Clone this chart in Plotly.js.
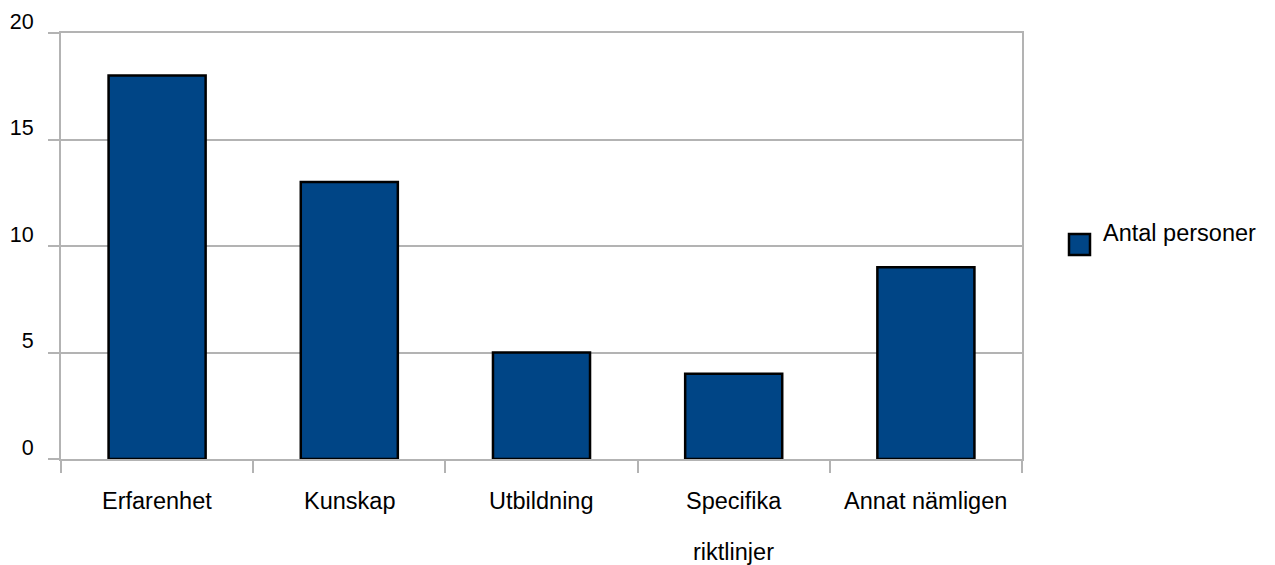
<!DOCTYPE html>
<html>
<head>
<meta charset="utf-8">
<script src="https://cdn.plot.ly/plotly-3.0.1.min.js"></script>
<style>html,body{margin:0;padding:0;background:#fff;}#chart{width:1275px;height:565px;}</style>
</head>
<body>
<div id="chart"></div>
<script>
// Data
var categories = ["Erfarenhet", "Kunskap", "Utbildning", "Specifika riktlinjer", "Annat nämligen"];
var tickLines = [["Erfarenhet"], ["Kunskap"], ["Utbildning"], ["Specifika", "riktlinjer"], ["Annat nämligen"]];
var values = [18, 13, 5, 4, 9];
var seriesName = "Antal personer";
var yTicks = [0, 5, 10, 15, 20];

var W = 1275, H = 565;
var mL = 61, mR = W - 1022, mT = 33, mB = H - 459;
var plotW = W - mL - mR, plotH = H - mT - mB;
function px2paperX(x) { return (x - mL) / plotW; }
function px2paperY(y) { return (H - mB - y) / plotH; }

var FONT = "Liberation Sans, Arial, sans-serif";
var grey = "#b3b3b3";
var barColor = "#004586";

var trace = {
  type: "bar",
  x: categories,
  y: values,
  name: seriesName,
  width: 0.505,
  marker: { color: barColor, line: { color: "#000", width: 2.5 } },
  showlegend: false,
  hoverinfo: "x+y"
};

var annotations = [];
tickLines.forEach(function (lines, i) {
  lines.forEach(function (t, j) {
    annotations.push({
      x: categories[i], xref: "x", y: 0, yref: "paper",
      text: t, showarrow: false, xanchor: "center", yanchor: "middle",
      yshift: -(42 + j * 51),
      font: { family: FONT, size: 23.5, color: "#000" }
    });
  });
});
// legend text
annotations.push({
  x: px2paperX(1101), xref: "paper", y: px2paperY(233), yref: "paper",
  text: seriesName, showarrow: false, xanchor: "left", yanchor: "middle",
  font: { family: FONT, size: 23.5, color: "#000" }
});

var shapes = [{
  type: "rect", xref: "paper", yref: "paper",
  x0: px2paperX(1069), x1: px2paperX(1090),
  y0: px2paperY(255), y1: px2paperY(234),
  fillcolor: barColor, line: { color: "#000", width: 2.5 }
}];

var layout = {
  width: W, height: H,
  margin: { l: mL, r: mR, t: mT, b: mB, pad: 0 },
  paper_bgcolor: "#fff", plot_bgcolor: "#fff",
  font: { family: FONT, size: 22, color: "#000" },
  showlegend: false,
  xaxis: {
    type: "category",
    range: [-0.5, categories.length - 0.5],
    tickson: "boundaries",
    ticks: "outside", ticklen: 12, tickwidth: 2, tickcolor: grey,
    showticklabels: false,
    showgrid: false, zeroline: false,
    showline: true, linecolor: grey, linewidth: 2, mirror: true,
    fixedrange: true
  },
  yaxis: {
    range: [0, 20],
    tickvals: yTicks,
    ticktext: yTicks.map(String),
    ticks: "outside", ticklen: 11, tickwidth: 2, tickcolor: grey,
    ticklabelshift: -12, ticklabelstandoff: 10,
    tickfont: { family: FONT, size: 21.5, color: "#000" },
    showgrid: true, gridcolor: grey, gridwidth: 2,
    zeroline: false,
    showline: true, linecolor: grey, linewidth: 2, mirror: true,
    fixedrange: true
  },
  annotations: annotations,
  shapes: shapes,
  bargap: 0.495
};

Plotly.newPlot("chart", [trace], layout, { displayModeBar: false, staticPlot: true });
</script>
</body>
</html>
